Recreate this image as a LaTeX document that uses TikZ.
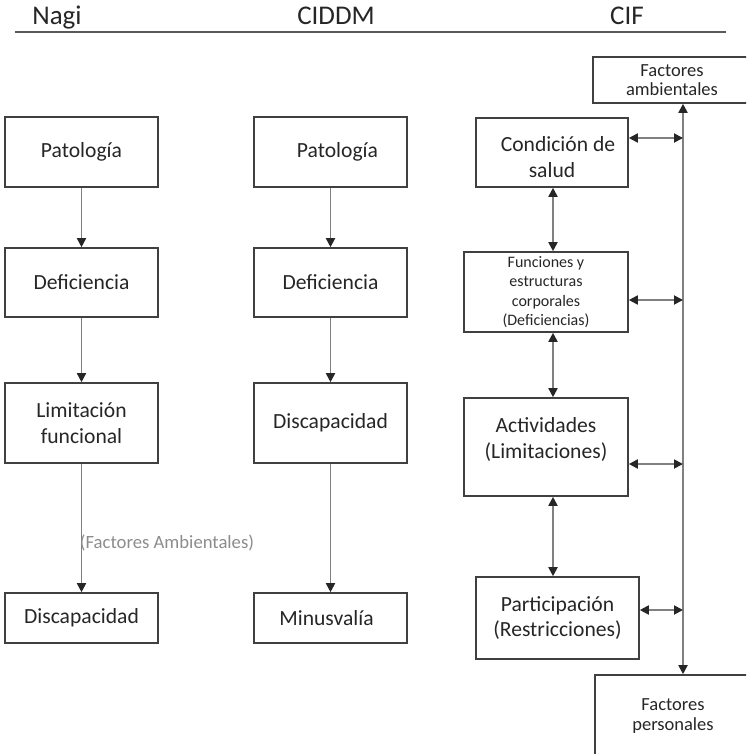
\documentclass[tikz,border=0pt]{standalone}
\usepackage{fontspec}
\setmainfont{Carlito}
\usetikzlibrary{arrows.meta}
\tikzset{
  box/.style={draw=black!75, line width=1.6pt, align=center, inner sep=0pt,
    font=\fontsize{21.6}{25.5}\selectfont, text=black!85},
  small/.style={font=\fontsize{16}{19.5}\selectfont},
  mid/.style={font=\fontsize{18.5}{19.5}\selectfont},
  head/.style={font=\fontsize{27}{30}\selectfont, text=black!85, anchor=base, inner sep=0pt},
  conn/.style={draw=black!50, line width=1.8pt},
  tipx/.tip={Triangle[length=9pt,width=9pt,color=black!85]},
  one/.style={conn, -tipx},
  dbl/.style={conn, tipx-tipx},
}
\newcommand{\bx}[7]{% name, x1, x2, y1, y2, style, text
  \node[box,#6, minimum width={#3pt-#2pt}, minimum height={#5pt-#4pt}]
    (#1) at ({(#2+#3)/2}, {-(#4+#5)/2}) {#7};}
\newcommand{\twol}[3]{\raisebox{#1}[0pt][0pt]{\begin{tabular}{@{}c@{}}#2\\#3\end{tabular}}}
\begin{document}
\begin{tikzpicture}[x=1pt,y=1pt]
\useasboundingbox (0,0) rectangle (746,-754);
\clip (0,0) rectangle (746,-754);
% headers
\node[head] (hn) at (57,-25) {Nagi};
\node[head] (hc) at (336,-25) {CIDDM};
\node[head] (hf) at (627,-25) {CIF};
\coordinate (l1) at (15,-32);
\coordinate (l2) at (726,-32);
\draw[draw=black!65, line width=1.6pt] (l1) -- (l2);
% Nagi
\bx{n1}{5}{158}{117}{187}{}{Patología}
\bx{n2}{5}{158}{248}{317}{}{Deficiencia}
\bx{n3}{5}{158}{383}{463}{}{Limitación\\funcional}
\bx{n4}{5}{158}{593}{643}{}{Discapacidad}
% CIDDM
\bx{c1}{254}{407}{117}{187}{}{\hspace*{14pt}Patología}
\bx{c2}{254}{407}{248}{317}{}{Deficiencia}
\bx{c3}{254}{407}{383}{463}{}{\raisebox{2pt}{Discapacidad}}
\bx{c4}{254}{407}{593}{643}{}{Minusvalía\hspace*{8pt}}
% CIF
\bx{f1}{476}{628}{118}{187}{}{\twol{-12pt}{\hspace*{12pt}Condición de}{salud}}
\bx{f2}{464}{628}{252}{332}{small}{Funciones y\\estructuras\\corporales\\(Deficiencias)}
\bx{f3}{464}{628}{398}{496}{}{\twol{1.5pt}{Actividades}{(Limitaciones)}}
\bx{f4}{476}{639}{577}{659}{}{Participación\\(Restricciones)}
\bx{fa}{593}{751}{57}{103}{mid}{Factores\\ambientales}
\bx{fp}{595}{751}{675}{757}{mid}{Factores\\personales}
% Nagi arrows
\draw[one] (n1) -- (n2);
\draw[one] (n2) -- (n3);
\draw[one] (n3) -- (n4);
\node[font=\fontsize{18.7}{20}\selectfont, text=black!45, inner sep=0pt] (fam) at (167,-543) {(Factores Ambientales)};
% CIDDM arrows
\draw[one] (c1) -- (c2);
\draw[one] (c2) -- (c3);
\draw[one] (c3) -- (c4);
% CIF
\coordinate (v) at (683,0);
\coordinate (vx) at (553,0);
\draw[dbl] (fa.south -| v) -- (fp.north -| v);
\draw[dbl] (f1.south -| vx) -- (f2.north -| vx);
\draw[dbl] (f2.south -| vx) -- (f3.north -| vx);
\draw[dbl] (f3.south -| vx) -- (f4.north -| vx);
\draw[dbl] (f1.east |- 0,-138) -- (v |- 0,-138);
\draw[dbl] (f2.east |- 0,-300) -- (v |- 0,-300);
\draw[dbl] (f3.east |- 0,-464) -- (v |- 0,-464);
\draw[dbl] (f4.east |- 0,-610) -- (v |- 0,-610);
\end{tikzpicture}
\end{document}
